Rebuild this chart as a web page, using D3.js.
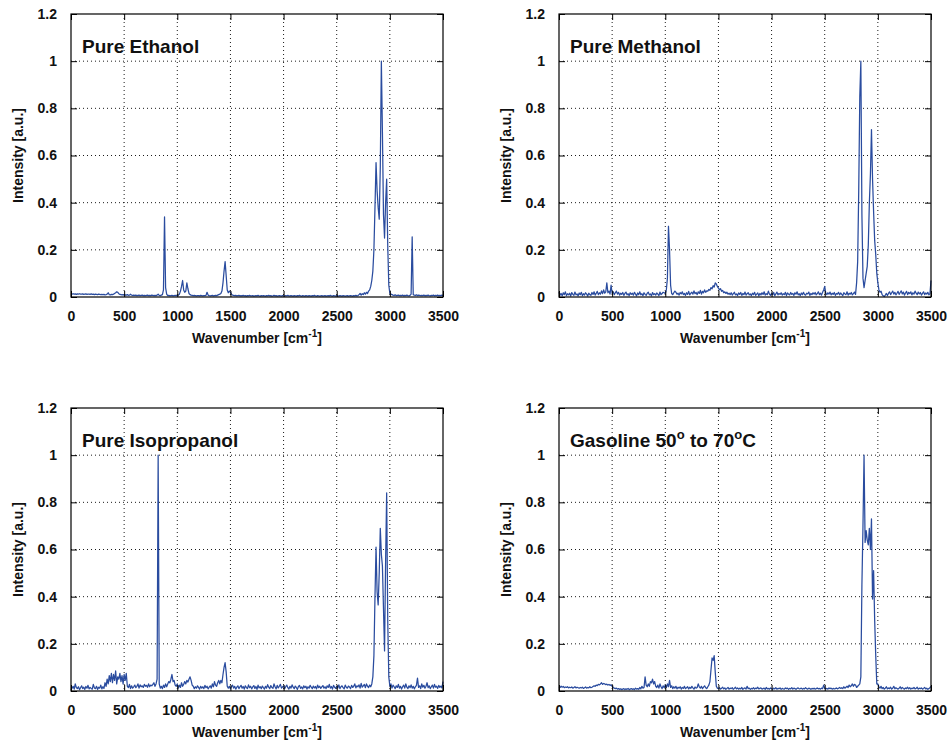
<!DOCTYPE html>
<html>
<head>
<meta charset="utf-8">
<script src="https://cdn.jsdelivr.net/npm/d3@7/dist/d3.min.js"></script>
<style>
  html, body { margin: 0; padding: 0; background: #fff; }
  svg { display: block; }
  text { font-family: "Liberation Sans", Arial, Helvetica, sans-serif; font-weight: bold; fill: #111; }
</style>
</head>
<body>
<svg id="chart" width="950" height="742"></svg>
<script>
// ---- Data (wavenumber step 10 cm^-1; each row: [start wavenumber, 10 intensities]) ----
const xTicks = [0, 500, 1000, 1500, 2000, 2500, 3000, 3500];
const yTicks = [0, 0.2, 0.4, 0.6, 0.8, 1, 1.2];
const yTickLabels = ["0", "0.2", "0.4", "0.6", "0.8", "1", "1.2"];
const xLabel = "Wavenumber [cm";
const xLabelSup = "-1";
const yLabel = "Intensity [a.u.]";
const titles = [
  [["Pure Ethanol", false]],
  [["Pure Methanol", false]],
  [["Pure Isopropanol", false]],
  [["Gasoline 50", false], ["o", true], [" to 70", false], ["o", true], ["C", false]]
];

const ethanolRows = [
  [0, .013,.012,.014,.012,.013,.011,.013,.012,.014,.012],
  [100, .012,.013,.011,.012,.013,.011,.012,.012,.011,.013],
  [200, .011,.012,.010,.012,.011,.010,.012,.011,.010,.011],
  [300, .010,.011,.009,.010,.012,.018,.010,.009,.011,.010],
  [400, .012,.015,.018,.022,.020,.014,.011,.010,.009,.010],
  [500, .008,.009,.008,.010,.007,.008,.012,.008,.007,.008],
  [600, .007,.008,.006,.007,.008,.006,.007,.008,.006,.007],
  [700, .006,.007,.008,.006,.007,.006,.008,.007,.006,.007],
  [800, .006,.008,.012,.007,.006,.008,.010,.030,.340,.040],
  [900, .012,.006,.007,.005,.006,.007,.005,.006,.007,.006],
  [1000, .006,.008,.012,.025,.045,.070,.030,.020,.025,.060],
  [1100, .035,.015,.010,.008,.007,.006,.007,.006,.005,.006],
  [1200, .006,.005,.007,.006,.005,.006,.006,.007,.020,.008],
  [1300, .006,.005,.006,.007,.005,.006,.007,.006,.008,.010],
  [1400, .012,.015,.025,.060,.110,.150,.090,.030,.018,.025],
  [1500, .020,.012,.008,.007,.006,.007,.005,.006,.007,.005],
  [1600, .006,.005,.007,.005,.006,.004,.006,.005,.007,.005],
  [1700, .005,.006,.004,.005,.006,.005,.007,.005,.004,.006],
  [1800, .005,.006,.005,.004,.006,.005,.007,.005,.006,.004],
  [1900, .005,.007,.005,.006,.004,.005,.006,.005,.004,.006],
  [2000, .005,.004,.006,.005,.007,.004,.005,.006,.005,.004],
  [2100, .006,.005,.004,.006,.005,.007,.005,.004,.006,.005],
  [2200, .004,.006,.005,.004,.006,.005,.004,.006,.005,.007],
  [2300, .005,.004,.006,.005,.004,.005,.006,.004,.005,.006],
  [2400, .004,.005,.006,.004,.007,.005,.004,.006,.005,.004],
  [2500, .006,.005,.004,.006,.005,.004,.006,.005,.004,.005],
  [2600, .006,.004,.005,.006,.005,.004,.006,.005,.007,.005],
  [2700, .006,.010,.015,.008,.014,.010,.018,.012,.020,.015],
  [2800, .025,.030,.045,.070,.110,.200,.380,.570,.450,.380],
  [2900, .330,.550,1.000,.700,.350,.250,.400,.500,.220,.050],
  [3000, .015,.012,.010,.008,.007,.009,.006,.007,.008,.006],
  [3100, .007,.006,.008,.005,.007,.006,.008,.006,.005,.007],
  [3200, .012,.255,.010,.008,.007,.009,.006,.008,.007,.006],
  [3300, .007,.006,.008,.005,.007,.006,.008,.006,.005,.007],
  [3400, .006,.008,.005,.007,.006,.008,.005,.007,.006,.008],
  [3500, .007]
];

const methanolRows = [
  [0, .020,.008,.015,.005,.018,.010,.022,.006,.014,.009],
  [100, .016,.004,.019,.011,.007,.021,.009,.013,.005,.017],
  [200, .010,.020,.006,.014,.008,.018,.012,.004,.016,.010],
  [300, .007,.019,.011,.022,.008,.015,.024,.010,.018,.012],
  [400, .026,.014,.030,.016,.022,.060,.018,.025,.012,.050],
  [500, .015,.022,.010,.018,.025,.012,.020,.008,.016,.011],
  [600, .019,.007,.015,.021,.009,.014,.006,.018,.011,.016],
  [700, .008,.020,.012,.005,.017,.010,.022,.009,.014,.006],
  [800, .018,.011,.007,.016,.020,.009,.013,.005,.019,.010],
  [900, .014,.008,.017,.012,.006,.021,.010,.015,.020,.018],
  [1000, .015,.030,.080,.300,.200,.050,.015,.010,.018,.025],
  [1100, .020,.012,.016,.008,.019,.013,.022,.010,.015,.007],
  [1200, .018,.011,.024,.009,.016,.020,.012,.026,.014,.019],
  [1300, .010,.022,.015,.028,.012,.024,.018,.030,.020,.026],
  [1400, .025,.032,.028,.040,.035,.048,.042,.060,.055,.045],
  [1500, .038,.030,.035,.024,.028,.018,.022,.015,.020,.012],
  [1600, .016,.010,.018,.008,.014,.020,.009,.013,.006,.017],
  [1700, .011,.019,.007,.015,.010,.021,.008,.014,.018,.009],
  [1800, .013,.006,.016,.010,.020,.007,.012,.017,.005,.015],
  [1900, .009,.018,.011,.022,.008,.014,.010,.025,.012,.007],
  [2000, .016,.010,.019,.006,.013,.021,.009,.015,.011,.018],
  [2100, .008,.014,.010,.020,.006,.017,.012,.009,.019,.011],
  [2200, .015,.007,.018,.012,.022,.009,.014,.006,.017,.010],
  [2300, .020,.011,.008,.016,.013,.021,.007,.015,.010,.018],
  [2400, .012,.019,.009,.014,.022,.010,.016,.008,.020,.030],
  [2500, .045,.015,.010,.018,.012,.021,.009,.016,.011,.019],
  [2600, .007,.015,.012,.020,.009,.017,.011,.006,.018,.013],
  [2700, .010,.022,.008,.016,.012,.019,.009,.014,.021,.011],
  [2800, .060,.150,.450,.850,1.000,.350,.080,.040,.070,.100],
  [2900, .130,.220,.400,.520,.710,.500,.360,.240,.180,.100],
  [3000, .060,.030,.020,.025,.010,.005,.002,.008,.015,.006],
  [3100, .015,.022,.010,.018,.025,.012,.020,.009,.016,.024],
  [3200, .011,.019,.026,.013,.021,.008,.017,.024,.010,.020],
  [3300, .014,.022,.009,.018,.012,.025,.016,.010,.021,.013],
  [3400, .019,.008,.015,.022,.010,.017,.012,.020,.009,.014],
  [3500, .070]
];

const isopropanolRows = [
  [0, .005,.012,.020,.008,.030,.015,.010,.018,.006,.014],
  [100, .022,.010,.016,.007,.019,.012,.024,.009,.015,.011],
  [200, .008,.028,.013,.010,.020,.007,.016,.012,.025,.009],
  [300, .018,.011,.035,.020,.050,.030,.065,.040,.075,.035],
  [400, .070,.045,.085,.030,.060,.050,.075,.040,.065,.030],
  [500, .070,.045,.075,.020,.015,.028,.010,.022,.012,.018],
  [600, .025,.014,.020,.030,.012,.026,.018,.022,.015,.028],
  [700, .020,.024,.016,.030,.018,.025,.022,.028,.035,.020],
  [800, .030,.050,1.000,.030,.012,.020,.010,.025,.015,.030],
  [900, .018,.030,.040,.035,.050,.070,.040,.045,.025,.020],
  [1000, .030,.012,.025,.015,.035,.020,.028,.040,.030,.045],
  [1100, .038,.050,.060,.045,.025,.020,.010,.018,.012,.022],
  [1200, .015,.008,.020,.012,.018,.010,.024,.014,.020,.009],
  [1300, .016,.022,.012,.030,.018,.040,.025,.020,.035,.045],
  [1400, .030,.045,.035,.070,.100,.120,.080,.020,.012,.020],
  [1500, .010,.018,.025,.012,.020,.008,.016,.022,.010,.018],
  [1600, .024,.012,.019,.008,.022,.015,.010,.026,.014,.020],
  [1700, .009,.017,.023,.011,.019,.007,.025,.013,.018,.010],
  [1800, .021,.014,.008,.020,.012,.027,.016,.010,.023,.015],
  [1900, .011,.030,.018,.009,.024,.013,.020,.028,.012,.017],
  [2000, .022,.010,.018,.025,.014,.008,.020,.012,.026,.016],
  [2100, .010,.021,.015,.007,.019,.024,.011,.017,.009,.022],
  [2200, .014,.020,.008,.018,.012,.024,.016,.010,.021,.013],
  [2300, .019,.009,.025,.014,.020,.011,.017,.023,.012,.018],
  [2400, .010,.022,.015,.028,.012,.019,.008,.024,.016,.011],
  [2500, .020,.013,.026,.010,.018,.022,.014,.009,.025,.016],
  [2600, .012,.021,.017,.010,.024,.015,.020,.030,.013,.022],
  [2700, .018,.026,.012,.032,.016,.022,.028,.014,.030,.020],
  [2800, .015,.025,.018,.030,.060,.150,.400,.610,.420,.365],
  [2900, .500,.690,.580,.530,.350,.170,.550,.840,.300,.060],
  [3000, .020,.030,.012,.025,.018,.010,.022,.015,.028,.012],
  [3100, .020,.008,.018,.025,.012,.030,.016,.010,.022,.014],
  [3200, .026,.012,.020,.009,.018,.024,.055,.015,.022,.010],
  [3300, .030,.016,.024,.012,.020,.035,.014,.022,.010,.018],
  [3400, .025,.012,.028,.016,.020,.011,.024,.015,.021,.013],
  [3500, .040]
];

const gasolineRows = [
  [0, .018,.015,.020,.016,.019,.014,.017,.015,.018,.013],
  [100, .016,.014,.017,.012,.015,.018,.013,.016,.014,.012],
  [200, .015,.013,.016,.011,.014,.017,.012,.015,.013,.018],
  [300, .014,.016,.019,.022,.020,.025,.023,.028,.026,.030],
  [400, .035,.028,.032,.030,.027,.029,.025,.028,.024,.026],
  [500, .020,.015,.012,.010,.012,.008,.010,.007,.009,.006],
  [600, .008,.010,.006,.009,.007,.011,.006,.008,.010,.007],
  [700, .009,.006,.012,.008,.010,.007,.015,.009,.020,.012],
  [800, .015,.060,.025,.018,.030,.020,.040,.035,.050,.030],
  [900, .040,.020,.015,.025,.012,.030,.018,.010,.022,.014],
  [1000, .025,.015,.030,.018,.045,.015,.022,.010,.018,.012],
  [1100, .020,.009,.016,.012,.018,.008,.015,.011,.020,.010],
  [1200, .014,.018,.009,.016,.011,.020,.013,.008,.017,.012],
  [1300, .015,.030,.018,.012,.020,.010,.016,.022,.014,.010],
  [1400, .018,.025,.040,.090,.140,.130,.150,.080,.020,.012],
  [1500, .010,.014,.008,.012,.016,.009,.013,.007,.011,.015],
  [1600, .008,.012,.010,.014,.007,.011,.016,.009,.013,.008],
  [1700, .012,.009,.015,.007,.011,.013,.008,.020,.010,.012],
  [1800, .007,.011,.009,.014,.008,.012,.010,.016,.009,.011],
  [1900, .013,.008,.010,.012,.007,.015,.009,.011,.008,.013],
  [2000, .010,.007,.012,.009,.014,.008,.011,.010,.013,.007],
  [2100, .011,.009,.008,.013,.010,.012,.007,.011,.009,.014],
  [2200, .008,.012,.010,.007,.011,.013,.009,.010,.012,.008],
  [2300, .011,.009,.014,.010,.008,.012,.010,.007,.011,.009],
  [2400, .012,.008,.010,.013,.009,.011,.008,.012,.010,.025],
  [2500, .012,.009,.011,.008,.013,.010,.012,.008,.011,.009],
  [2600, .010,.013,.009,.012,.015,.011,.014,.010,.018,.012],
  [2700, .016,.020,.015,.025,.018,.022,.030,.020,.028,.025],
  [2800, .015,.020,.025,.030,.060,.450,.700,1.000,.630,.680],
  [2900, .640,.620,.690,.600,.730,.390,.510,.300,.150,.030],
  [3000, .030,.018,.012,.020,.010,.015,.008,.012,.018,.009],
  [3100, .013,.010,.016,.008,.012,.020,.009,.014,.011,.008],
  [3200, .012,.018,.009,.015,.011,.008,.013,.010,.016,.009],
  [3300, .014,.008,.012,.010,.015,.009,.011,.016,.008,.012],
  [3400, .010,.013,.008,.011,.015,.009,.012,.007,.010,.014],
  [3500, .020]
];

const seriesRows = [ethanolRows, methanolRows, isopropanolRows, gasolineRows];
const wnStep = 10;

// ---- Rendering ----
function toPoints(rows) {
  return rows.flatMap(r => r.slice(1).map((v, i) => ({ x: r[0] + i * wnStep, y: v })));
}

const svg = d3.select("#chart");
const panelW = 372, panelH = 283;
const lefts = [71, 559], tops = [14, 408];
const lineColor = "#2a4c9f";

seriesRows.forEach((rows, k) => {
  const left = lefts[k % 2], top = tops[Math.floor(k / 2)];
  const x = d3.scaleLinear().domain([0, 3500]).range([left, left + panelW]);
  const y = d3.scaleLinear().domain([0, 1.2]).range([top + panelH, top]);
  const g = svg.append("g");

  // grid (dotted)
  g.append("g").selectAll("line.vg").data(xTicks.slice(1, -1)).join("line")
    .attr("x1", d => x(d)).attr("x2", d => x(d))
    .attr("y1", top).attr("y2", top + panelH)
    .attr("stroke", "#000").attr("stroke-width", 0.9).attr("stroke-dasharray", "1,3");
  g.append("g").selectAll("line.hg").data(yTicks.slice(1, -1)).join("line")
    .attr("x1", left).attr("x2", left + panelW)
    .attr("y1", d => y(d)).attr("y2", d => y(d))
    .attr("stroke", "#000").attr("stroke-width", 0.9).attr("stroke-dasharray", "1,3");

  // spectrum line
  const pts = toPoints(rows);
  g.append("path").datum(pts)
    .attr("fill", "none").attr("stroke", lineColor).attr("stroke-width", 1.25)
    .attr("stroke-linejoin", "round")
    .attr("d", d3.line().x(d => x(d.x)).y(d => y(d.y)));

  // axes with inward ticks
  const axB = d3.axisBottom(x).tickValues(xTicks).tickSize(-6).tickPadding(14).tickFormat(d3.format("d"));
  const axT = d3.axisTop(x).tickValues(xTicks).tickSize(-6).tickFormat("");
  const axL = d3.axisLeft(y).tickValues(yTicks).tickSize(-6).tickPadding(14).tickFormat((d, i) => yTickLabels[i]);
  const axR = d3.axisRight(y).tickValues(yTicks).tickSize(-6).tickFormat("");

  const styleAxis = sel => {
    sel.select(".domain").remove();
    sel.selectAll("line").attr("stroke", "#000").attr("stroke-width", 1);
    sel.selectAll("text").attr("font-size", 14).attr("font-weight", "bold")
      .attr("font-family", '"Liberation Sans", Arial, sans-serif').attr("fill", "#111");
  };
  g.append("g").attr("transform", `translate(0,${top + panelH})`).call(axB).call(styleAxis);
  g.append("g").attr("transform", `translate(0,${top})`).call(axT).call(styleAxis);
  g.append("g").attr("transform", `translate(${left},0)`).call(axL).call(styleAxis);
  g.append("g").attr("transform", `translate(${left + panelW},0)`).call(axR).call(styleAxis);

  // frame
  g.append("rect").attr("x", left).attr("y", top).attr("width", panelW).attr("height", panelH)
    .attr("fill", "none").attr("stroke", "#000").attr("stroke-width", 1.2);

  // x label
  const xl = g.append("text").attr("x", left + panelW / 2).attr("y", top + panelH + 46)
    .attr("text-anchor", "middle").attr("font-size", 14);
  xl.append("tspan").text(xLabel);
  xl.append("tspan").attr("font-size", 10).attr("dy", -6).text(xLabelSup);
  xl.append("tspan").attr("dy", 6).text("]");

  // y label
  g.append("text").attr("transform", `translate(${left - 48},${top + panelH / 2}) rotate(-90)`)
    .attr("text-anchor", "middle").attr("font-size", 14).text(yLabel);

  // title
  const t = g.append("text").attr("x", left + 11).attr("y", top + 39).attr("font-size", 19);
  let raised = false;
  titles[k].forEach(([s, sup]) => {
    const ts = t.append("tspan").text(s);
    if (sup && !raised) { ts.attr("font-size", 13).attr("dy", -8); raised = true; }
    else if (!sup && raised) { ts.attr("dy", 8); raised = false; }
  });
});
</script>
</body>
</html>
